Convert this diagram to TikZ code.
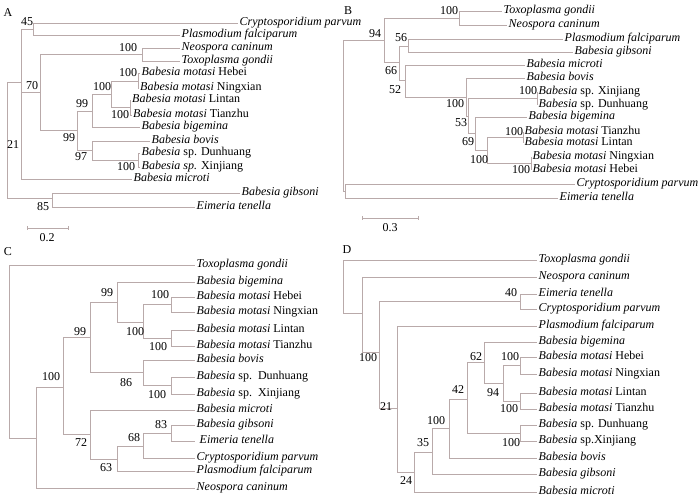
\documentclass[tikz,border=0pt]{standalone}
\usepackage{fontspec}
\setmainfont{Liberation Serif}
\usepackage{tikz}

\newcommand{\bab}{\textit{Babesia}}
\newcommand{\bmot}{\textit{Babesia motasi}}
\definecolor{branchgray}{RGB}{185,170,170}

\tikzset{
  branch/.style={draw=branchgray, line width=0.9pt},
  leaf/.style={anchor=west, inner xsep=1.5pt, inner ysep=0pt,
    text height=8pt, text depth=3pt, font=\fontsize{12}{14}\selectfont},
  boot/.style={inner sep=0pt, font=\fontsize{12}{14}\selectfont},
}

\begin{document}
\begin{tikzpicture}[x=1pt, y=-1pt]
\useasboundingbox (0,0) rectangle (700,501);

% ---------------- A ----------------
\node[boot] (labA) at (8,13) {A};

\coordinate (rA) at (7,140);
\coordinate (nA21) at (21,82);
\coordinate (nA45) at (33,29);
\coordinate (nA70) at (40,92);
\coordinate (nA100a) at (142,54);
\coordinate (nA99b) at (77,130);
\coordinate (nA99a) at (92,111);
\coordinate (nA100b) at (111,94);
\coordinate (nA100c) at (138,81);
\coordinate (nA100d) at (130,107);
\coordinate (nA97) at (92,150);
\coordinate (nA100e) at (138,160);
\coordinate (nA85) at (52,198);

\node[leaf] (aCry) at (238,23) {\textit{Cryptosporidium parvum}};
\node[leaf] (aPla) at (180,35) {\textit{Plasmodium falciparum}};
\node[leaf] (aNeo) at (180,48) {\textit{Neospora caninum}};
\node[leaf] (aTox) at (180,61) {\textit{Toxoplasma gondii}};
\node[leaf] (aHeb) at (140,73) {\bmot{} Hebei};
\node[leaf] (aNin) at (138.5,88) {\bmot{} Ningxian};
\node[leaf] (aLin) at (130.5,100) {\bmot{} Lintan};
\node[leaf] (aTia) at (131.5,115) {\bmot{} Tianzhu};
\node[leaf] (aBig) at (140,127) {\textit{Babesia bigemina}};
\node[leaf] (aBov) at (150,141) {\textit{Babesia bovis}};
\node[leaf] (aDun) at (140,153) {\bab{} sp. Dunhuang};
\node[leaf] (aXin) at (140,167) {\textit{Babesia sp.} Xinjiang};
\node[leaf] (aMic) at (132,179) {\textit{Babesia microti}};
\node[leaf] (aGib) at (240,193) {\textit{Babesia gibsoni}};
\node[leaf] (aEim) at (195,207) {\textit{Eimeria tenella}};

\begin{scope}[branch]
  \draw (rA) |- (nA21);
  \draw (rA) |- (nA85);
  \draw (nA21) |- (nA45);
  \draw (nA21) |- (nA70);
  \draw (nA21) |- (aMic.west);
  \draw (nA45) |- (aCry.west);
  \draw (nA45) |- (aPla.west);
  \draw (nA70) |- (nA100a);
  \draw (nA70) |- (nA99b);
  \draw (nA100a) |- (aNeo.west);
  \draw (nA100a) |- (aTox.west);
  \draw (nA99b) |- (nA99a);
  \draw (nA99b) |- (nA97);
  \draw (nA99a) |- (nA100b);
  \draw (nA99a) |- (aBig.west);
  \draw (nA100b) |- (nA100c);
  \draw (nA100b) |- (nA100d);
  \draw (nA100c) |- (aHeb.west);
  \draw (nA100c) |- (aNin.west);
  \draw (nA100d) |- (aLin.west);
  \draw (nA100d) |- (aTia.west);
  \draw (nA97) |- (aBov.west);
  \draw (nA97) |- (nA100e);
  \draw (nA100e) |- (aDun.west);
  \draw (nA100e) |- (aXin.west);
  \draw (nA85) |- (aGib.west);
  \draw (nA85) |- (aEim.west);
\end{scope}

\node[boot] (bsA1) at (27,22) {45};
\node[boot] (bsA2) at (32,86) {70};
\node[boot] (bsA3) at (128,48) {100};
\node[boot] (bsA4) at (128,73) {100};
\node[boot] (bsA5) at (102,87) {100};
\node[boot] (bsA6) at (82,104) {99};
\node[boot] (bsA7) at (120,115) {100};
\node[boot] (bsA8) at (69,138) {99};
\node[boot] (bsA9) at (81,157) {97};
\node[boot] (bsA10) at (126,167) {100};
\node[boot] (bsA11) at (13,145) {21};
\node[boot] (bsA12) at (43,207) {85};

% scale bar A
\coordinate (sA1) at (27,228);
\coordinate (sA2) at (68,228);
\draw[branch] (sA1) -- (sA2);
\draw[branch] ([yshift=2pt]sA1) -- ([yshift=-2pt]sA1);
\draw[branch] ([yshift=2pt]sA2) -- ([yshift=-2pt]sA2);
\node[boot] (scA) at (47,238) {0.2};

% ---------------- B ----------------
\node[boot] (labB) at (348,11) {B};

\coordinate (rB) at (343,100);
\coordinate (nB94) at (384,40);
\coordinate (nB100a) at (459,18);
\coordinate (nB66) at (399,62);
\coordinate (nB56) at (408,46);
\coordinate (nB52) at (405,80);
\coordinate (nB100b) at (466,97);
\coordinate (nB53) at (468,116);
\coordinate (nB100c) at (537,98.5);
\coordinate (nB69) at (475,133);
\coordinate (nB100d) at (487,150);
\coordinate (nB100e) at (523,137);
\coordinate (nB100f) at (531,163);
\coordinate (nBce) at (345,191);

\node[leaf] (bTox) at (502,11) {\textit{Toxoplasma gondii}};
\node[leaf] (bNeo) at (507,25) {\textit{Neospora caninum}};
\node[leaf] (bPla) at (563,39) {\textit{Plasmodium falciparum}};
\node[leaf] (bGib) at (573,52) {\textit{Babesia gibsoni}};
\node[leaf] (bMic) at (525,65) {\textit{Babesia microti}};
\node[leaf] (bBov) at (525,78) {\textit{Babesia bovis}};
\node[leaf] (bXin) at (537,92) {\bab{} sp. Xinjiang};
\node[leaf] (bDun) at (537,105) {\bab{} sp. Dunhuang};
\node[leaf] (bBig) at (527,117) {\textit{Babesia bigemina}};
\node[leaf] (bTia) at (523,132) {\bmot{} Tianzhu};
\node[leaf] (bLin) at (523,143) {\bmot{} Lintan};
\node[leaf] (bNin) at (531,157) {\bmot{} Ningxian};
\node[leaf] (bHeb) at (531,170) {\bmot{} Hebei};
\node[leaf] (bCry) at (575,184) {\textit{Cryptosporidium parvum}};
\node[leaf] (bEim) at (558,198) {\textit{Eimeria tenella}};

\begin{scope}[branch]
  \draw (rB) |- (nB94);
  \draw (rB) |- (nBce);
  \draw (nB94) |- (nB100a);
  \draw (nB94) |- (nB66);
  \draw (nB100a) |- (bTox.west);
  \draw (nB100a) |- (bNeo.west);
  \draw (nB66) |- (nB56);
  \draw (nB66) |- (nB52);
  \draw (nB56) |- (bPla.west);
  \draw (nB56) |- (bGib.west);
  \draw (nB52) |- (bMic.west);
  \draw (nB52) |- (nB100b);
  \draw (nB100b) |- (bBov.west);
  \draw (nB100b) |- (nB53);
  \draw (nB53) |- (nB100c);
  \draw (nB53) |- (nB69);
  \draw (nB100c) |- (bXin.west);
  \draw (nB100c) |- (bDun.west);
  \draw (nB69) |- (bBig.west);
  \draw (nB69) |- (nB100d);
  \draw (nB100d) |- (nB100e);
  \draw (nB100d) |- (nB100f);
  \draw (nB100e) |- (bTia.west);
  \draw (nB100e) |- (bLin.west);
  \draw (nB100f) |- (bNin.west);
  \draw (nB100f) |- (bHeb.west);
  \draw (nBce) |- (bCry.west);
  \draw (nBce) |- (bEim.west);
\end{scope}

\node[boot] (bsB1) at (449,11) {100};
\node[boot] (bsB2) at (375,34) {94};
\node[boot] (bsB3) at (401,38) {56};
\node[boot] (bsB4) at (391,71) {66};
\node[boot] (bsB5) at (395,90) {52};
\node[boot] (bsB6) at (455,104) {100};
\node[boot] (bsB7) at (461,123) {53};
\node[boot] (bsB8) at (528,91) {100};
\node[boot] (bsB9) at (468,142) {69};
\node[boot] (bsB10) at (514,132) {100};
\node[boot] (bsB11) at (479,160) {100};
\node[boot] (bsB12) at (521,170) {100};

% scale bar B
\coordinate (sB1) at (362,218);
\coordinate (sB2) at (418,218);
\draw[branch] (sB1) -- (sB2);
\draw[branch] ([yshift=2pt]sB1) -- ([yshift=-2pt]sB1);
\draw[branch] ([yshift=2pt]sB2) -- ([yshift=-2pt]sB2);
\node[boot] (scB) at (390,228) {0.3};

% ---------------- C ----------------
\node[boot] (labC) at (8,252) {C};

\coordinate (rC) at (9,350);
\coordinate (nC100a) at (36,438);
\coordinate (nC99a) at (63,387);
\coordinate (nC99b) at (90,337);
\coordinate (nC99c) at (117,302);
\coordinate (nC100b) at (143,322);
\coordinate (nC100c) at (171,304.5);
\coordinate (nC100d) at (171,338);
\coordinate (nC86) at (143,372);
\coordinate (nC100e) at (171,385.5);
\coordinate (nC72) at (90,434);
\coordinate (nC63) at (117,459);
\coordinate (nC68) at (143,446);
\coordinate (nC83) at (171,433);

\node[leaf] (cTox) at (195,265) {\textit{Toxoplasma gondii}};
\node[leaf] (cBig) at (195,282) {\textit{Babesia bigemina}};
\node[leaf] (cHeb) at (195,297) {\bmot{} Hebei};
\node[leaf] (cNin) at (195,312) {\bmot{} Ningxian};
\node[leaf] (cLin) at (195,330) {\bmot{} Lintan};
\node[leaf] (cTia) at (195,346) {\bmot{} Tianzhu};
\node[leaf] (cBov) at (195,360) {\textit{Babesia bovis}};
\node[leaf] (cDun) at (195,377) {\bab{} sp.\ \ Dunhuang};
\node[leaf] (cXin) at (195,394) {\bab{} sp.\ \ Xinjiang};
\node[leaf] (cMic) at (195,410) {\textit{Babesia microti}};
\node[leaf] (cGib) at (195,425) {\textit{Babesia gibsoni}};
\node[leaf] (cEim) at (195,441) {\ \textit{Eimeria tenella}};
\node[leaf] (cCry) at (195,458) {\textit{Cryptosporidium parvum}};
\node[leaf] (cPla) at (195,471) {\textit{Plasmodium falciparum}};
\node[leaf] (cNeo) at (195,488) {\textit{Neospora caninum}};

\begin{scope}[branch]
  \draw (rC) |- (cTox.west);
  \draw (rC) |- (nC100a);
  \draw (nC100a) |- (nC99a);
  \draw (nC100a) |- (cNeo.west);
  \draw (nC99a) |- (nC99b);
  \draw (nC99a) |- (nC72);
  \draw (nC99b) |- (nC99c);
  \draw (nC99b) |- (nC86);
  \draw (nC99c) |- (cBig.west);
  \draw (nC99c) |- (nC100b);
  \draw (nC100b) |- (nC100c);
  \draw (nC100b) |- (nC100d);
  \draw (nC100c) |- (cHeb.west);
  \draw (nC100c) |- (cNin.west);
  \draw (nC100d) |- (cLin.west);
  \draw (nC100d) |- (cTia.west);
  \draw (nC86) |- (cBov.west);
  \draw (nC86) |- (nC100e);
  \draw (nC100e) |- (cDun.west);
  \draw (nC100e) |- (cXin.west);
  \draw (nC72) |- (cMic.west);
  \draw (nC72) |- (nC63);
  \draw (nC63) |- (nC68);
  \draw (nC63) |- (cPla.west);
  \draw (nC68) |- (nC83);
  \draw (nC68) |- (cCry.west);
  \draw (nC83) |- (cGib.west);
  \draw (nC83) |- (cEim.west);
\end{scope}

\node[boot] (bsC1) at (51,377) {100};
\node[boot] (bsC2) at (107,293) {99};
\node[boot] (bsC3) at (80,332) {99};
\node[boot] (bsC4) at (135,332) {100};
\node[boot] (bsC5) at (160,295) {100};
\node[boot] (bsC6) at (158,347) {100};
\node[boot] (bsC7) at (126,383) {86};
\node[boot] (bsC8) at (157,395) {100};
\node[boot] (bsC9) at (81,443) {72};
\node[boot] (bsC10) at (106,468) {63};
\node[boot] (bsC11) at (134,438) {68};
\node[boot] (bsC12) at (161,425) {83};

% ---------------- D ----------------
\node[boot] (labD) at (347,250) {D};

\coordinate (rD) at (343,290);
\coordinate (nD100) at (362,313);
\coordinate (nD21) at (379,352);
\coordinate (nD40) at (520,301.5);
\coordinate (nDx) at (397,408);
\coordinate (nD24) at (414,472);
\coordinate (nD35) at (432,452);
\coordinate (nD100b) at (449,428);
\coordinate (nD42) at (467,399);
\coordinate (nD62) at (484,362);
\coordinate (nD94) at (503,383);
\coordinate (nD100d) at (520,365.5);
\coordinate (nD100e) at (520,401);
\coordinate (nD100c) at (520,433);

\node[leaf] (dTox) at (537,260) {\textit{Toxoplasma gondii}};
\node[leaf] (dNeo) at (537,277) {\textit{Neospora caninum}};
\node[leaf] (dEim) at (537,294) {\textit{Eimeria tenella}};
\node[leaf] (dCry) at (537,309) {\textit{Cryptosporidium parvum}};
\node[leaf] (dPla) at (537,326) {\textit{Plasmodium falciparum}};
\node[leaf] (dBig) at (537,342) {\textit{Babesia bigemina}};
\node[leaf] (dHeb) at (537,357) {\bmot{} Hebei};
\node[leaf] (dNin) at (537,374) {\bmot{} Ningxian};
\node[leaf] (dLin) at (537,393) {\bmot{} Lintan};
\node[leaf] (dTia) at (537,409) {\bmot{} Tianzhu};
\node[leaf] (dDun) at (537,425) {\bab{} sp. Dunhuang};
\node[leaf] (dXin) at (537,441) {\bab{} sp.Xinjiang};
\node[leaf] (dBov) at (537,458) {\textit{Babesia bovis}};
\node[leaf] (dGib) at (537,474) {\textit{Babesia gibsoni}};
\node[leaf] (dMic) at (537,492) {\textit{Babesia microti}};

\begin{scope}[branch]
  \draw (rD) |- (dTox.west);
  \draw (rD) |- (nD100);
  \draw (nD100) |- (dNeo.west);
  \draw (nD100) |- (nD21);
  \draw (nD21) |- (nD40);
  \draw (nD21) |- (nDx);
  \draw (nD40) |- (dEim.west);
  \draw (nD40) |- (dCry.west);
  \draw (nDx) |- (dPla.west);
  \draw (nDx) |- (nD24);
  \draw (nD24) |- (nD35);
  \draw (nD24) |- (dMic.west);
  \draw (nD35) |- (nD100b);
  \draw (nD35) |- (dGib.west);
  \draw (nD100b) |- (nD42);
  \draw (nD100b) |- (dBov.west);
  \draw (nD42) |- (nD62);
  \draw (nD42) |- (nD100c);
  \draw (nD62) |- (dBig.west);
  \draw (nD62) |- (nD94);
  \draw (nD94) |- (nD100d);
  \draw (nD94) |- (nD100e);
  \draw (nD100d) |- (dHeb.west);
  \draw (nD100d) |- (dNin.west);
  \draw (nD100e) |- (dLin.west);
  \draw (nD100e) |- (dTia.west);
  \draw (nD100c) |- (dDun.west);
  \draw (nD100c) |- (dXin.west);
\end{scope}

\node[boot] (bsD1) at (368,358) {100};
\node[boot] (bsD2) at (511,293) {40};
\node[boot] (bsD3) at (386,407) {21};
\node[boot] (bsD4) at (406,481) {24};
\node[boot] (bsD5) at (423,443) {35};
\node[boot] (bsD6) at (436,421) {100};
\node[boot] (bsD7) at (458,390) {42};
\node[boot] (bsD8) at (476,357) {62};
\node[boot] (bsD9) at (510,357) {100};
\node[boot] (bsD10) at (493,393) {94};
\node[boot] (bsD11) at (509,409) {100};
\node[boot] (bsD12) at (511,443) {100};

\end{tikzpicture}
\end{document}
